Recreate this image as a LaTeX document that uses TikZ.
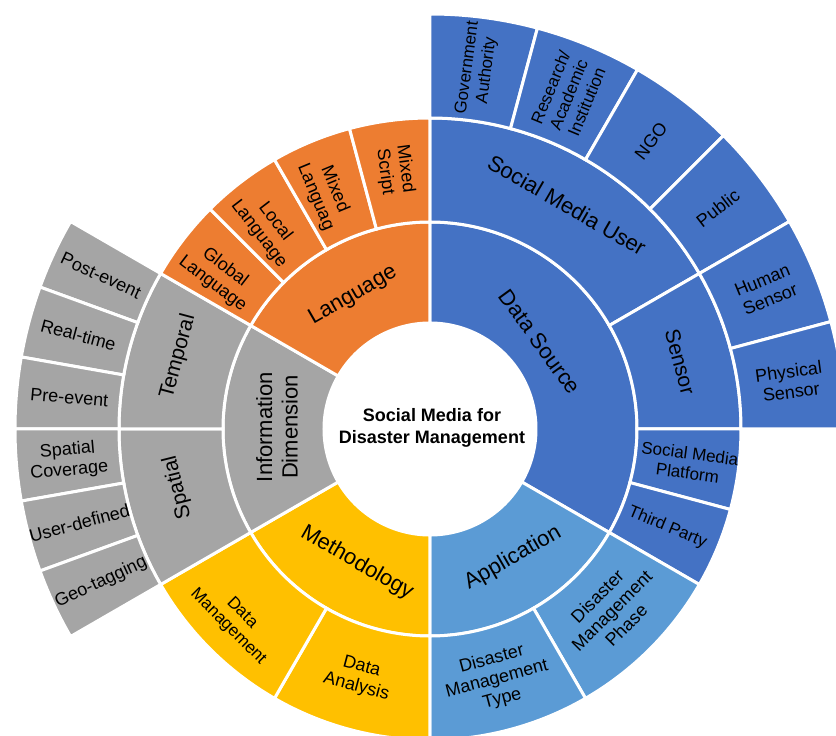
\documentclass[tikz,border=0pt]{standalone}
\usepackage{fontspec}
\setmainfont{Liberation Sans}
\definecolor{cBlue}{RGB}{68,114,196}
\definecolor{cLBlue}{RGB}{91,155,213}
\definecolor{cYellow}{RGB}{255,192,0}
\definecolor{cGray}{RGB}{165,165,165}
\definecolor{cOrange}{RGB}{237,125,49}
\newcommand\sbseg[5]{\fill[#1,draw=white,line width=3pt,line join=miter] (#2:#4pt) arc[start angle=#2,end angle=#3,radius=#4pt] -- (#3:#5pt) arc[start angle=#3,end angle=#2,radius=#5pt] -- cycle;}
\newcommand\fTitle{\fontsize{18}{22}\selectfont\bfseries}
\newcommand\fBig{\fontsize{22}{25.5}\selectfont}
\newcommand\fMid{\fontsize{21}{24}\selectfont}
\newcommand\fLeaf{\fontsize{18}{20.5}\selectfont}
\newcommand\fSmall{\fontsize{17}{19.5}\selectfont}
\begin{document}
\begin{tikzpicture}[x=1pt,y=1pt,
  lab/.style={text=black,align=center,inner sep=0pt}]
\useasboundingbox (-430,-307) rectangle (406,429);
\clip (-430,-307) rectangle (406,429);
% ring 1
\sbseg{cBlue}{-30}{90}{106}{207}
\sbseg{cLBlue}{-90}{-30}{106}{207}
\sbseg{cYellow}{-150}{-90}{106}{207}
\sbseg{cGray}{150}{210}{106}{207}
\sbseg{cOrange}{90}{150}{106}{207}
% ring 2
\sbseg{cBlue}{30}{90}{207}{311}
\sbseg{cBlue}{0}{30}{207}{311}
\sbseg{cBlue}{-15}{0}{207}{311}
\sbseg{cBlue}{-30}{-15}{207}{311}
\sbseg{cLBlue}{-60}{-30}{207}{311}
\sbseg{cLBlue}{-90}{-60}{207}{311}
\sbseg{cYellow}{-120}{-90}{207}{311}
\sbseg{cYellow}{-150}{-120}{207}{311}
\sbseg{cGray}{180}{210}{207}{311}
\sbseg{cGray}{150}{180}{207}{311}
\sbseg{cOrange}{135}{150}{207}{311}
\sbseg{cOrange}{120}{135}{207}{311}
\sbseg{cOrange}{105}{120}{207}{311}
\sbseg{cOrange}{90}{105}{207}{311}
% ring 3
\sbseg{cBlue}{75}{90}{311}{415}
\sbseg{cBlue}{60}{75}{311}{415}
\sbseg{cBlue}{45}{60}{311}{415}
\sbseg{cBlue}{30}{45}{311}{415}
\sbseg{cBlue}{15}{30}{311}{415}
\sbseg{cBlue}{0}{15}{311}{415}
\sbseg{cGray}{150}{160}{311}{415}
\sbseg{cGray}{160}{170}{311}{415}
\sbseg{cGray}{170}{180}{311}{415}
\sbseg{cGray}{180}{190}{311}{415}
\sbseg{cGray}{190}{200}{311}{415}
\sbseg{cGray}{200}{210}{311}{415}
% labels
\node[lab,font=\fTitle] (title) at (2,1) {Social Media for\\Disaster Management};
\node[lab,font=\fBig,rotate=-54] (dsrc) at (110,87) {Data Source};
\node[lab,font=\fBig,rotate=30] (app) at (83,-129) {Application};
\node[lab,font=\fBig,rotate=-30] (meth) at (-73,-134) {Methodology};
\node[lab,font=\fBig,rotate=90] (info) at (-153,2) {Information\\Dimension};
\node[lab,font=\fBig,rotate=30] (lang) at (120:154) {Language};
% ring 2 labels
\node[lab,font=\fBig,rotate=-30] (smu) at (137,224) {Social Media User};
\node[lab,font=\fMid,rotate=-75] (sens) at (15:259) {Sensor};
\node[lab,font=\fSmall,rotate=-7.5] (smp) at (-7.5:261) {Social Media\\Platform};
\node[lab,font=\fSmall,rotate=-22.5] (tp) at (-22.5:257) {Third Party};
\node[lab,font=\fLeaf,rotate=45] (dmp) at (-45:257) {Disaster\\Management\\Phase};
\node[lab,font=\fLeaf,rotate=15] (dmt) at (-75:259) {Disaster\\Management\\Type};
\node[lab,font=\fLeaf,rotate=-15] (da) at (-106:258) {Data\\Analysis};
\node[lab,font=\fSmall,rotate=-45] (dm) at (-195,-191) {Data\\Management};
\node[lab,font=\fMid,rotate=75] (temp) at (164:262) {Temporal};
\node[lab,font=\fMid,rotate=104] (spat) at (193:259) {Spatial};
\node[lab,font=\fLeaf,rotate=-37.5] (gl) at (144:261) {Global\\Language};
\node[lab,font=\fLeaf,rotate=-52.5] (ll) at (129:259) {Local\\Language};
\node[lab,font=\fLeaf,rotate=-67.5] (ml) at (114:258) {Mixed\\Languag};
\node[lab,font=\fLeaf,rotate=-82.5] (ms) at (97.7:261) {Mixed\\Script};
% ring 3 labels
\node[lab,font=\fSmall,rotate=82.5] (gov) at (82.5:363) {Government\\Authority};
\node[lab,font=\fSmall,rotate=67.5] (res) at (67.5:362) {Research/\\Academic\\Institution};
\node[lab,font=\fLeaf,rotate=52.5] (ngo) at (52.5:363) {NGO};
\node[lab,font=\fLeaf,rotate=37.5] (pub) at (37.5:363) {Public};
\node[lab,font=\fLeaf,rotate=22.5] (hs) at (22.5:364) {Human\\Sensor};
\node[lab,font=\fLeaf,rotate=7.5] (ps) at (7.5:363) {Physical\\Sensor};
\node[lab,font=\fLeaf,rotate=-25] (post) at (155:363) {Post-event};
\node[lab,font=\fLeaf,rotate=-15] (rt) at (165:364) {Real-time};
\node[lab,font=\fLeaf,rotate=-5] (pre) at (175:362) {Pre-event};
\node[lab,font=\fLeaf,rotate=5] (sc) at (185:363) {Spatial\\Coverage};
\node[lab,font=\fLeaf,rotate=15] (ud) at (195:363) {User-defined};
\node[lab,font=\fLeaf,rotate=25] (geo) at (205:363) {Geo-tagging};
\end{tikzpicture}
\end{document}
